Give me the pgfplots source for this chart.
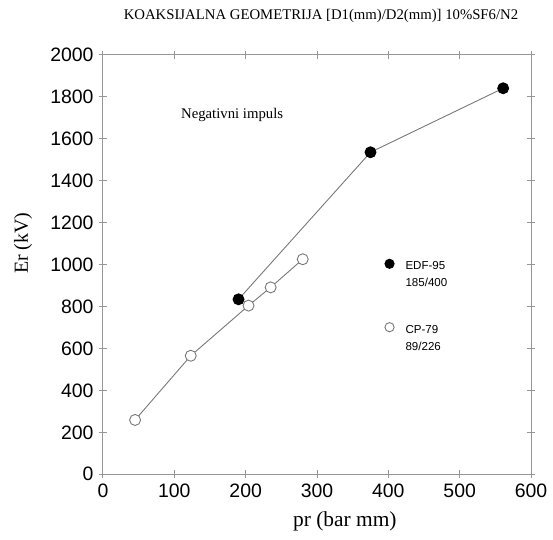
\documentclass[border=0pt]{standalone}
\usepackage{pgfplots}
\pgfplotsset{compat=1.18}
\usepackage{fontspec}
\setmainfont{Liberation Serif}
\newfontfamily\arial{Liberation Sans}
\definecolor{axgray}{RGB}{150,150,150}
\definecolor{lngray}{RGB}{120,120,120}
\begin{document}
\begin{tikzpicture}[x=1bp,y=1bp]
\useasboundingbox (-103bp,-65.7bp) rectangle (450bp,474.3bp);
\begin{axis}[
  scale only axis,
  width=428bp, height=419.6bp,
  xmin=0, xmax=600, ymin=0, ymax=2000,
  xtick={0,100,...,600}, ytick={0,200,...,2000},
  tick align=center,
  major tick length=8bp,
  axis line style={axgray, line width=1bp},
  every tick/.style={axgray, line width=1bp},
  tick label style={font=\fontsize{19.5}{21}\arial},
  /pgf/number format/assume math mode=true,
  /pgf/number format/1000 sep={},
  xticklabel style={yshift=-2bp},
  yticklabel style={xshift=-2bp},
  xlabel={pr (bar mm)},
  ylabel={Er (kV)},
  xlabel style={font=\fontsize{21.5}{24}\selectfont, at={(axis description cs:0.565,-0.111)}, anchor=center},
  ylabel style={font=\fontsize{20}{24}\selectfont, at={(axis description cs:-0.187,0.551)}, anchor=center},
  title={KOAKSIJALNA GEOMETRIJA [D1(mm)/D2(mm)] 10\%SF6/N2},
  title style={font=\fontsize{14.8}{16}\selectfont, at={(axis description cs:0.5,1)}, anchor=center, xshift=4bp, yshift=33bp},
  legend cell align=left,
  legend style={draw=none, fill=none, at={(axis cs:393,1041)}, anchor=north west,
    font=\fontsize{11.6}{17}\arial, row sep=38bp, inner sep=0pt},
  legend image code/.code={\path[draw=none,fill=none] (0bp,0bp) -- (20bp,0bp);\draw[only marks, mark size=4.6bp] plot coordinates {(6bp,5bp)};},
]
\addplot[lngray, line width=0.9bp, mark=*, mark size=5.5bp,
  mark options={draw=black, fill=black}]
  coordinates {(190,834) (375,1535) (561,1840)};
\addlegendentry{\begin{tabular}{@{}l@{}}EDF-95\\185/400\end{tabular}}
\addplot[lngray, line width=0.9bp, mark=*, mark size=5.5bp,
  mark options={draw=lngray, fill=white, line width=0.9bp}]
  coordinates {(45,259) (123,565) (204,804) (235,891) (280,1025)};
\addlegendentry{\begin{tabular}{@{}l@{}}CP-79\\89/226\end{tabular}}
\node[font=\fontsize{14.8}{16}\selectfont] at (axis cs:181,1713) {Negativni impuls};
\end{axis}
\end{tikzpicture}
\end{document}
